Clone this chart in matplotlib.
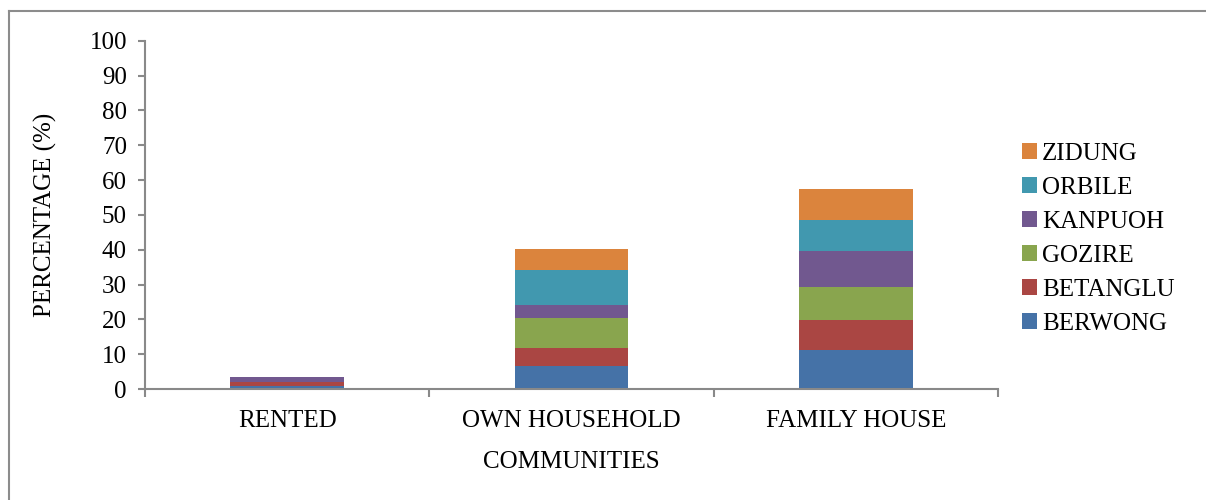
import numpy as np
import matplotlib
matplotlib.use('Agg')
import matplotlib.pyplot as plt
from matplotlib.lines import Line2D

# housing type share per community (%)
categories = ['RENTED', 'OWN HOUSEHOLD', 'FAMILY HOUSE']
communities = ['BERWONG', 'BETANGLU', 'GOZIRE', 'KANPUOH', 'ORBILE', 'ZIDUNG']
berwong = [0.9, 6.6, 11.2]
betanglu = [1.1, 5.2, 8.6]
gozire = [0.0, 8.6, 9.5]
kanpuoh = [1.5, 3.7, 10.3]
orbile = [0.0, 10.1, 8.9]
zidung = [0.0, 6.0, 8.9]
colors = ['#4572A7', '#AA4643', '#89A54E', '#71588F', '#4198AF', '#DB843D']

plt.rcParams['font.family'] = ['Liberation Serif', 'DejaVu Serif']
fs = 18

fig = plt.figure(figsize=(12.06, 5), dpi=100)
ax = fig.add_axes([145/1206, 1-389/500, (998-145)/1206, (389-40.7)/500])

x = np.arange(len(categories))
bottom = np.zeros(len(categories))
handles = []
for name, vals, c in zip(communities, [berwong, betanglu, gozire, kanpuoh, orbile, zidung], colors):
    b = ax.bar(x, vals, 0.4, bottom=bottom, color=c, label=name)
    bottom += np.array(vals)
    handles.append(b)

ax.set_xlim(-0.5, 2.5)
ax.set_ylim(0, 100)
ax.set_yticks(range(0, 101, 10))
ax.set_xticks(x)
ax.set_xticklabels(categories)
ax.set_xticks([-0.5, 0.5, 1.5, 2.5], minor=True)
ax.tick_params(axis='x', which='major', length=0, pad=15, labelsize=fs)
ax.tick_params(axis='x', which='minor', length=6, width=1.5, color='#898989')
ax.tick_params(axis='y', length=5, width=1.5, color='#898989', labelsize=fs, pad=8)
for s in ['top', 'right']:
    ax.spines[s].set_visible(False)
for s in ['left', 'bottom']:
    ax.spines[s].set_color('#898989')
    ax.spines[s].set_linewidth(1.5)

ax.set_ylabel('PERCENTAGE (%)', fontsize=fs)
ax.yaxis.set_label_coords(-88/853, 0.5)
ax.set_xlabel('COMMUNITIES', fontsize=fs)
ax.xaxis.set_label_coords(0.5, -62/348)

fig.legend(handles[::-1], communities[::-1], loc='upper left',
           bbox_to_anchor=(1022/1206, 1-143/500), frameon=False, fontsize=fs,
           handlelength=0.6, handleheight=0.6, handletextpad=0.2,
           labelspacing=0.48, borderpad=0, borderaxespad=0)

# outer frame (left and top edges)
fig.add_artist(Line2D([9/1206, 9/1206], [0, 1-11/500], color='#8c8c8c', lw=1.5))
fig.add_artist(Line2D([9/1206, 1], [1-11/500, 1-11/500], color='#8c8c8c', lw=1.5))

fig.savefig('out.png', dpi=100)
